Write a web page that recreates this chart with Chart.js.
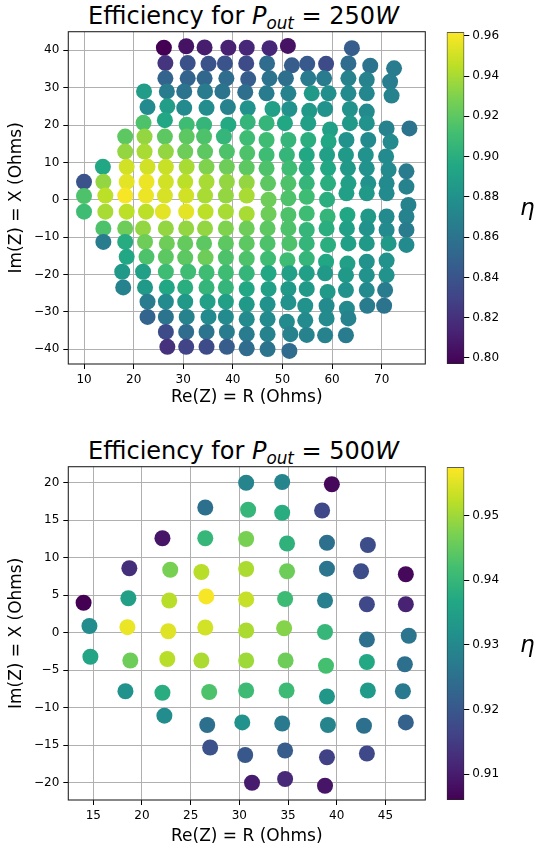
<!DOCTYPE html>
<html>
<head>
<meta charset="utf-8">
<script src="https://cdn.jsdelivr.net/npm/chart.js@4.4.1/dist/chart.umd.min.js"></script>
<style>
  body { margin: 0; background: #fff; }
  #page { position: relative; width: 534px; height: 846px; overflow: hidden; font-family: "DejaVu Sans", sans-serif; color: #000; }
  canvas { position: absolute; }
  .title { position: absolute; left: 65px; width: 357px; text-align: center; font-size: 24px; line-height: 24px; white-space: nowrap; }
  .title .sub { font-size: 0.7em; position: relative; top: 0.3em; font-style: italic; }
  .eta { position: absolute; left: 520px; font-size: 23px; line-height: 23px; font-style: italic; }
</style>
</head>
<body>
<div id="page">
  <div class="title" style="top:4px">Efficiency for <i>P</i><span class="sub">out</span> = 250<i>W</i></div>
  <canvas id="topPlot" width="440" height="420" style="left:0;top:0"></canvas>
  <canvas id="topBar" width="94" height="420" style="left:440px;top:0"></canvas>
  <div class="eta" style="top:196px">η</div>

  <div class="title" style="top:439px">Efficiency for <i>P</i><span class="sub">out</span> = 500<i>W</i></div>
  <canvas id="botPlot" width="440" height="420" style="left:0;top:435px"></canvas>
  <canvas id="botBar" width="94" height="420" style="left:440px;top:435px"></canvas>
  <div class="eta" style="top:633px">η</div>
</div>
<script>
// P_out = 250 W : R (Ohms), X (Ohms), efficiency, one line per row of the sweep
const topR = [
  26.1, 30.6, 34.3, 39.1, 42.8, 47.4, 51.1, 64.0,
  26.4, 30.9, 35.1, 38.4, 42.7, 46.9, 51.9, 55.0, 58.8, 63.3, 67.7, 72.5,
  26.4, 30.9, 34.3, 38.7, 43.1, 47.4, 50.7, 55.2, 58.4, 63.3, 67.0, 71.7,
  22.1, 26.7, 30.2, 34.4, 37.9, 42.5, 46.8, 51.2, 55.9, 59.3, 63.3, 67.0, 72.0,
  22.8, 26.8, 30.2, 34.7, 39.0, 43.0, 48.0, 51.4, 55.4, 58.6, 63.6, 67.0,
  22.0, 26.3, 30.7, 34.2, 39.1, 43.0, 46.8, 50.5, 55.2, 59.6, 63.6, 67.0, 71.0, 75.6,
  18.3, 22.2, 26.3, 30.7, 34.2, 38.2, 42.9, 46.8, 51.2, 55.2, 59.3, 62.9, 67.3, 71.8,
  18.3, 22.2, 26.5, 30.4, 34.4, 38.8, 42.9, 46.8, 50.9, 54.9, 59.0, 62.8, 66.8, 70.9,
  13.8, 18.6, 22.8, 26.5, 30.7, 34.7, 38.8, 42.8, 46.8, 51.4, 54.9, 59.2, 63.2, 67.0, 71.4, 75.0,
  10.0, 13.9, 18.6, 22.6, 26.5, 30.4, 34.7, 38.8, 42.8, 47.1, 51.2, 54.9, 59.2, 63.3, 67.3, 71.0, 75.0,
  10.0, 14.3, 18.3, 22.5, 26.3, 30.6, 34.4, 38.6, 42.8, 47.2, 51.2, 54.9, 59.0, 62.9, 67.0, 71.0, 75.4,
  10.0, 14.3, 18.6, 22.5, 25.9, 30.6, 34.5, 38.6, 42.8, 47.2, 51.2, 54.9, 59.1, 63.1, 67.3, 71.0, 75.0,
  13.9, 18.3, 21.9, 26.5, 30.6, 34.4, 38.6, 42.8, 47.0, 51.2, 54.9, 58.9, 63.0, 67.0, 71.0, 75.0,
  13.9, 18.3, 22.3, 26.7, 30.4, 34.2, 38.6, 42.8, 47.0, 51.4, 54.9, 59.2, 63.3, 67.0, 71.4, 75.0,
  18.6, 22.6, 26.5, 30.4, 34.5, 38.6, 42.8, 47.1, 51.0, 54.9, 58.8, 63.1, 67.0, 71.0,
  17.7, 21.9, 26.5, 31.0, 34.7, 38.6, 42.8, 47.2, 51.4, 54.9, 58.6, 62.8, 67.0, 71.0,
  17.9, 22.3, 26.7, 30.4, 34.7, 38.6, 42.8, 47.2, 51.2, 54.9, 59.1, 62.8, 67.0, 70.7,
  22.8, 26.5, 30.4, 34.9, 38.6, 42.8, 47.0, 51.2, 54.6, 58.9, 63.0, 67.1, 70.5,
  22.8, 26.5, 30.7, 35.1, 38.6, 42.8, 47.0, 50.9, 54.6, 58.9, 63.3,
  26.5, 30.6, 34.7, 38.8, 42.8, 47.0, 51.6, 54.9, 58.6, 62.8,
  26.8, 30.6, 34.7, 38.8, 42.8, 47.0, 51.4
];
const topX = [
  40.7, 41.1, 40.8, 40.7, 40.7, 40.6, 41.2, 40.6,
  36.6, 36.6, 36.4, 36.5, 36.5, 36.5, 36.0, 36.4, 36.4, 36.5, 35.9, 35.2,
  32.5, 32.5, 32.5, 32.5, 32.3, 32.5, 32.5, 32.5, 32.5, 32.5, 32.1, 31.6,
  29.0, 29.0, 29.0, 29.0, 29.0, 28.8, 28.5, 28.5, 28.5, 28.5, 28.5, 28.5, 27.9,
  24.8, 25.0, 24.6, 24.6, 24.8, 24.5, 24.3, 24.3, 23.8, 24.3, 24.3, 23.6,
  20.6, 21.3, 20.1, 20.1, 20.1, 20.8, 20.5, 20.5, 20.5, 18.8, 20.5, 20.5, 19.1, 19.1,
  16.9, 16.9, 16.9, 16.9, 16.9, 16.9, 16.5, 16.0, 16.0, 16.0, 15.6, 16.0, 16.0, 15.5,
  12.9, 12.9, 12.9, 12.9, 12.9, 12.9, 12.5, 12.0, 12.0, 12.0, 12.0, 12.0, 12.0, 11.6,
  8.8, 8.8, 8.8, 8.8, 8.8, 8.8, 8.8, 8.6, 8.4, 8.4, 8.4, 8.4, 8.4, 8.4, 8.0, 7.6,
  4.8, 4.8, 4.8, 4.8, 4.8, 4.8, 4.8, 4.8, 4.6, 4.4, 4.4, 4.4, 4.4, 4.4, 4.4, 4.4, 3.5,
  1.0, 1.1, 1.1, 1.1, 1.1, 1.1, 1.1, 1.1, 1.1, 0.0, 0.4, 0.8, 0.0, 1.7, 1.7, 1.7, -1.4,
  -3.2, -3.2, -3.2, -3.2, -3.2, -3.2, -3.2, -3.2, -3.8, -3.8, -4.1, -3.7, -4.5, -4.1, -4.5, -4.5, -4.5,
  -7.7, -7.7, -7.7, -7.7, -7.7, -7.7, -7.7, -7.7, -7.7, -7.7, -8.1, -7.7, -7.7, -7.7, -8.1, -8.1,
  -11.3, -11.3, -11.3, -11.7, -11.7, -11.7, -11.7, -11.7, -11.7, -11.7, -11.7, -12.1, -11.7, -11.7, -11.7, -12.1,
  -15.3, -15.3, -15.3, -15.5, -15.5, -15.5, -15.8, -15.8, -16.2, -15.8, -16.6, -17.1, -16.6, -16.3,
  -19.3, -19.3, -19.3, -19.3, -19.5, -19.5, -19.7, -19.7, -19.7, -19.7, -19.7, -20.2, -20.2, -20.2,
  -23.5, -23.5, -23.5, -23.5, -23.5, -23.5, -23.9, -23.9, -23.9, -23.9, -24.7, -24.2, -24.2, -24.2,
  -27.3, -27.3, -27.3, -27.3, -27.3, -28.0, -28.0, -27.5, -28.4, -28.4, -29.2, -28.4, -28.4,
  -31.4, -31.4, -31.4, -31.4, -31.4, -32.0, -32.0, -32.7, -32.3, -31.8, -31.8,
  -35.4, -35.4, -35.4, -35.4, -36.0, -36.0, -36.0, -36.2, -36.3, -36.3,
  -39.4, -39.4, -39.4, -39.4, -39.8, -40.0, -40.5
];
const topEta = [
  0.797, 0.805, 0.810, 0.812, 0.815, 0.815, 0.805, 0.845,
  0.822, 0.838, 0.840, 0.840, 0.835, 0.855, 0.845, 0.843, 0.835, 0.855, 0.860, 0.865,
  0.850, 0.850, 0.852, 0.855, 0.845, 0.860, 0.857, 0.865, 0.865, 0.870, 0.870, 0.866,
  0.887, 0.865, 0.860, 0.865, 0.860, 0.857, 0.865, 0.870, 0.885, 0.878, 0.875, 0.873, 0.870,
  0.875, 0.888, 0.875, 0.876, 0.870, 0.880, 0.890, 0.880, 0.885, 0.880, 0.880, 0.875,
  0.915, 0.895, 0.910, 0.905, 0.897, 0.905, 0.905, 0.895, 0.890, 0.890, 0.885, 0.880, 0.870, 0.860,
  0.920, 0.935, 0.920, 0.920, 0.915, 0.905, 0.910, 0.910, 0.905, 0.900, 0.895, 0.880, 0.875, 0.875,
  0.935, 0.940, 0.935, 0.925, 0.920, 0.915, 0.915, 0.910, 0.905, 0.895, 0.890, 0.885, 0.880, 0.875,
  0.895, 0.950, 0.950, 0.948, 0.940, 0.930, 0.925, 0.920, 0.915, 0.910, 0.900, 0.895, 0.885, 0.880, 0.875, 0.865,
  0.840, 0.935, 0.955, 0.957, 0.950, 0.945, 0.940, 0.935, 0.935, 0.920, 0.915, 0.905, 0.900, 0.890, 0.880, 0.875, 0.870,
  0.915, 0.945, 0.960, 0.957, 0.952, 0.950, 0.940, 0.935, 0.940, 0.925, 0.915, 0.910, 0.900, 0.890, 0.885, 0.875, 0.870,
  0.910, 0.940, 0.945, 0.945, 0.955, 0.955, 0.945, 0.940, 0.940, 0.925, 0.915, 0.910, 0.905, 0.895, 0.885, 0.875, 0.870,
  0.915, 0.925, 0.935, 0.935, 0.935, 0.935, 0.930, 0.925, 0.920, 0.915, 0.905, 0.900, 0.890, 0.880, 0.875, 0.865,
  0.865, 0.898, 0.925, 0.925, 0.922, 0.920, 0.920, 0.920, 0.915, 0.915, 0.905, 0.900, 0.890, 0.885, 0.885, 0.875,
  0.895, 0.915, 0.920, 0.920, 0.925, 0.915, 0.915, 0.910, 0.910, 0.905, 0.895, 0.890, 0.880, 0.880,
  0.885, 0.890, 0.910, 0.910, 0.910, 0.910, 0.905, 0.895, 0.890, 0.890, 0.885, 0.885, 0.880, 0.880,
  0.870, 0.885, 0.895, 0.900, 0.905, 0.905, 0.895, 0.890, 0.885, 0.885, 0.885, 0.880, 0.875, 0.865,
  0.865, 0.875, 0.885, 0.890, 0.890, 0.885, 0.880, 0.880, 0.880, 0.875, 0.875, 0.865, 0.860,
  0.850, 0.860, 0.870, 0.875, 0.875, 0.875, 0.875, 0.875, 0.875, 0.875, 0.870,
  0.835, 0.855, 0.860, 0.865, 0.865, 0.870, 0.870, 0.870, 0.870, 0.865,
  0.820, 0.830, 0.835, 0.845, 0.855, 0.860, 0.855
];

// P_out = 500 W
const botR = [
  30.7, 34.4, 39.5,
  26.5, 30.9, 34.4, 38.5,
  22.1, 26.5, 30.7, 34.9, 39.0, 43.2,
  18.7, 22.9, 26.1, 30.7, 34.9, 39.0, 42.5, 47.1,
  14.0, 18.6, 22.8, 26.6, 30.7, 34.7, 38.8, 43.1, 47.1,
  14.6, 18.5, 22.7, 26.5, 30.7, 34.6, 38.8, 43.1, 47.4,
  14.7, 18.8, 22.6, 26.1, 30.7, 34.75, 38.9, 43.1, 47.0,
  18.3, 22.1, 26.9, 30.7, 34.85, 39.0, 43.2, 46.8,
  22.3, 26.7, 30.3, 34.4, 39.1, 42.8, 47.1,
  27.0, 30.6, 34.7, 39.0, 43.1,
  31.3, 34.7, 38.8
];
const botX = [
  20.0, 20.1, 19.8,
  16.7, 16.4, 16.0, 16.3,
  12.6, 12.6, 12.5, 11.9, 12.0, 11.7,
  8.6, 8.4, 8.1, 8.5, 8.2, 8.55, 8.2, 7.8,
  4.0, 4.6, 4.3, 4.85, 4.45, 4.5, 4.3, 3.8, 3.8,
  0.9, 0.75, 0.2, 0.7, 0.3, 0.6, 0.1, -0.9, -0.4,
  -3.2, -3.7, -3.5, -3.7, -3.7, -3.7, -4.4, -3.9, -4.2,
  -7.8, -8.0, -7.9, -7.7, -7.7, -8.5, -7.7, -7.8,
  -11.05, -12.3, -11.95, -12.1, -12.3, -12.4, -11.95,
  -15.3, -16.3, -15.7, -16.6, -16.1,
  -20.0, -19.5, -20.4
];
const botEta = [
  0.929, 0.929, 0.907,
  0.925, 0.940, 0.938, 0.917,
  0.909, 0.940, 0.947, 0.939, 0.925, 0.918,
  0.913, 0.947, 0.952, 0.951, 0.946, 0.926, 0.918, 0.907,
  0.906, 0.935, 0.952, 0.957, 0.953, 0.941, 0.928, 0.917, 0.911,
  0.931, 0.956, 0.955, 0.954, 0.951, 0.948, 0.940, 0.925, 0.926,
  0.936, 0.946, 0.952, 0.951, 0.950, 0.946, 0.942, 0.937, 0.925,
  0.932, 0.938, 0.943, 0.941, 0.941, 0.933, 0.934, 0.927,
  0.931, 0.925, 0.932, 0.927, 0.929, 0.925, 0.922,
  0.919, 0.920, 0.921, 0.916, 0.917,
  0.910, 0.912, 0.909
];

const topXTicks = [10, 20, 30, 40, 50, 60, 70];
const topYTicks = [-40, -30, -20, -10, 0, 10, 20, 30, 40];
const topBarTicks = [0.80, 0.82, 0.84, 0.86, 0.88, 0.90, 0.92, 0.94, 0.96];
const topEtaRange = [0.797, 0.9617];

const botXTicks = [15, 20, 25, 30, 35, 40, 45];
const botYTicks = [-20, -15, -10, -5, 0, 5, 10, 15, 20];
const botBarTicks = [0.91, 0.92, 0.93, 0.94, 0.95];
const botEtaRange = [0.906, 0.9575];

const VIRIDIS = ['#440154', '#482475', '#414487', '#355f8d', '#2a788e', '#21918c',
                 '#22a884', '#44bf70', '#7ad151', '#bddf26', '#fde725'];

function hexToRgb(h) {
  return [1, 3, 5].map(i => parseInt(h.slice(i, i + 2), 16));
}

function viridis(t) {
  t = Math.min(1, Math.max(0, t));
  const p = t * (VIRIDIS.length - 1);
  const i = Math.min(VIRIDIS.length - 2, Math.floor(p));
  const f = p - i;
  const a = hexToRgb(VIRIDIS[i]), b = hexToRgb(VIRIDIS[i + 1]);
  const c = a.map((v, k) => Math.round(v + (b[k] - v) * f));
  return `rgb(${c[0]},${c[1]},${c[2]})`;
}

const FONT = '"DejaVu Sans", sans-serif';
const minus = v => (v < 0 ? '\u2212' + Math.abs(v) : String(v));

// box around the axes, drawn above the markers like matplotlib spines
const frame = {
  id: 'frame',
  afterDraw(chart) {
    const { ctx, chartArea: a } = chart;
    ctx.save();
    ctx.strokeStyle = '#262626';
    ctx.lineWidth = 1.1;
    ctx.strokeRect(a.left, a.top, a.right - a.left, a.bottom - a.top);
    ctx.restore();
  }
};

function axis(min, max, ticks, title, titlePad) {
  return {
    type: 'linear',
    min: min,
    max: max,
    z: 1,
    afterBuildTicks: s => { s.ticks = ticks.map(v => ({ value: v })); },
    grid: { color: '#b0b0b0', lineWidth: 1, tickColor: '#000', tickLength: 5, tickWidth: 1 },
    border: { display: false },
    ticks: { color: '#000', padding: 4, font: { family: FONT, size: 12 }, callback: v => minus(v) },
    title: { display: true, text: title, color: '#000', font: { family: FONT, size: 17 }, padding: titlePad }
  };
}

function scatterPlot(id, R, X, eta, range, xLim, yLim, xTicks, yTicks, xHeight, xTitlePad) {
  const colors = eta.map(v => viridis((v - range[0]) / (range[1] - range[0])));
  const x = axis(xLim[0], xLim[1], xTicks, 'Re(Z) = R (Ohms)', { top: 0, bottom: xTitlePad });
  x.afterFit = s => { s.height = xHeight; };
  x.ticks.padding = 3.5;
  const y = axis(yLim[0], yLim[1], yTicks, 'Im(Z) = X (Ohms)', { top: 6.5, bottom: 0 });
  y.afterFit = s => { s.width = 68.3; };

  new Chart(document.getElementById(id), {
    type: 'scatter',
    data: {
      datasets: [{
        data: R.map((r, i) => ({ x: r, y: X[i] })),
        pointBackgroundColor: colors,
        pointBorderColor: colors,
        pointBorderWidth: 0,
        pointRadius: 8,
        pointHoverRadius: 8
      }]
    },
    options: {
      responsive: false,
      animation: false,
      events: [],
      layout: { padding: { top: 31.7, right: 14.7, left: 0, bottom: 0 } },
      plugins: { legend: { display: false }, tooltip: { enabled: false } },
      scales: { x: x, y: y }
    },
    plugins: [frame]
  });
}

function colorBar(id, range, ticks, bottomPad) {
  new Chart(document.getElementById(id), {
    type: 'bar',
    data: {
      labels: [''],
      datasets: [{
        data: [[range[0], range[1]]],
        backgroundColor: c => {
          const a = c.chart.chartArea;
          if (!a) return VIRIDIS[5];
          const g = c.chart.ctx.createLinearGradient(0, a.bottom, 0, a.top);
          VIRIDIS.forEach((col, i) => g.addColorStop(i / (VIRIDIS.length - 1), col));
          return g;
        },
        borderColor: '#262626',
        borderWidth: 1,
        borderSkipped: false,
        categoryPercentage: 1,
        barPercentage: 1
      }]
    },
    options: {
      responsive: false,
      animation: false,
      events: [],
      layout: { padding: { left: 6.7, top: 32.3, right: 0, bottom: bottomPad } },
      plugins: { legend: { display: false }, tooltip: { enabled: false } },
      scales: {
        x: { display: false },
        y: {
          position: 'right',
          min: range[0],
          max: range[1],
          afterBuildTicks: s => { s.ticks = ticks.map(v => ({ value: v })); },
          afterFit: s => { s.width = 69.7; },
          grid: { drawOnChartArea: false, tickColor: '#000', tickLength: 5, tickWidth: 1 },
          border: { display: false },
          ticks: { color: '#000', padding: 3, font: { family: FONT, size: 12 }, callback: v => v.toFixed(2) }
        }
      }
    }
  });
}

scatterPlot('topPlot', topR, topX, topEta, topEtaRange, [6.83, 78.8], [-44.0, 45.0],
            topXTicks, topYTicks, 56, 11.8);
colorBar('topBar', topEtaRange, topBarTicks, 56);

scatterPlot('botPlot', botR, botX, botEta, botEtaRange, [12.43, 49.1], [-22.3, 22.14],
            botXTicks, botYTicks, 55, 7.8);
colorBar('botBar', botEtaRange, botBarTicks, 55);
</script>
</body>
</html>
